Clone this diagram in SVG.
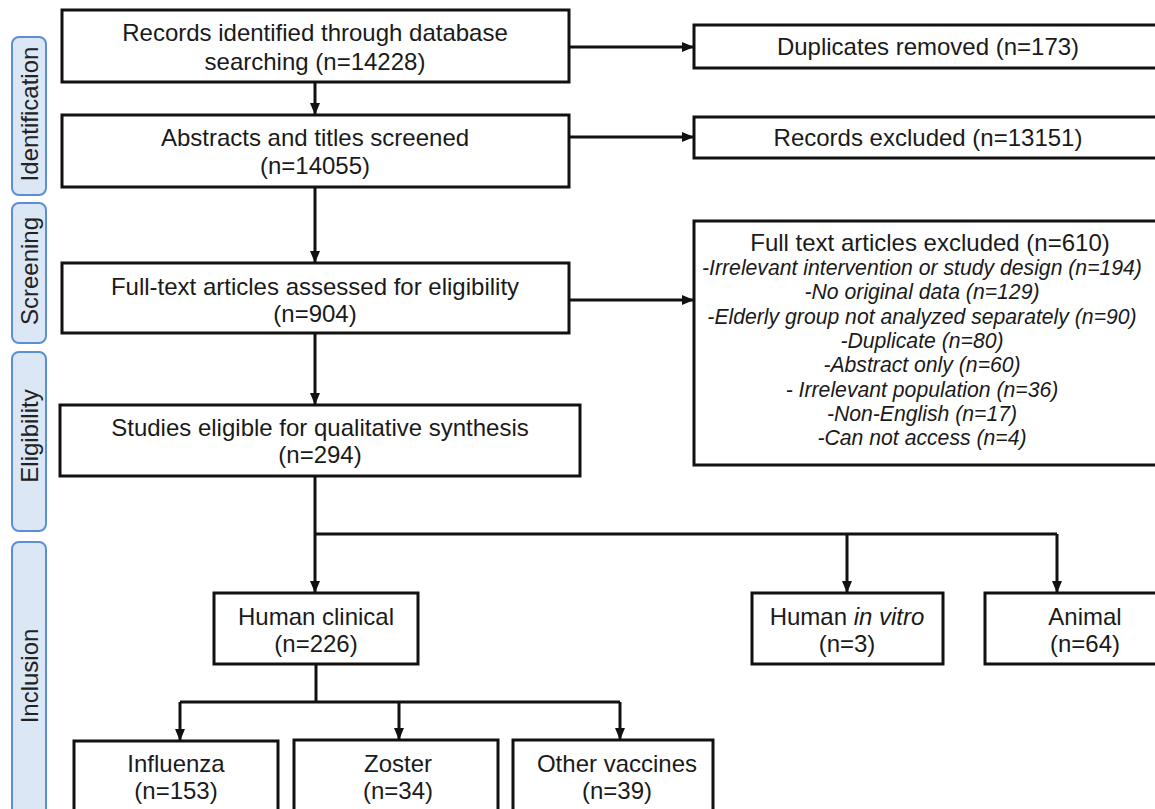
<svg xmlns="http://www.w3.org/2000/svg" width="1155" height="809" viewBox="0 0 1155 809">
<defs>
<style>
.bg{fill:#ffffff}
.phase{fill:#dce7f5;stroke:#5b8fd4;stroke-width:2}
.phase-t{font-family:"Liberation Sans",Arial,sans-serif;font-size:24px;fill:#222;text-anchor:middle}
.box{fill:#ffffff;stroke:#111;stroke-width:3}
.t{font-family:"Liberation Sans",Arial,sans-serif;font-size:24px;fill:#1a1a1a;text-anchor:middle}
.it{font-family:"Liberation Sans",Arial,sans-serif;font-size:21.2px;font-style:italic;fill:#1a1a1a;text-anchor:middle}
.c{fill:none;stroke:#111;stroke-width:3}
</style>
<marker id="ah" markerUnits="userSpaceOnUse" markerWidth="12" markerHeight="12" viewBox="0 0 12 12" refX="12" refY="6" orient="auto">
<path d="M0,1 L12,6 L0,11 z" fill="#111"/>
</marker>
</defs>
<rect class="bg" x="0" y="0" width="1155" height="809"/>

<g id="phase-identification">
<rect class="phase" x="12" y="37" width="34" height="158" rx="7"/>
<text class="phase-t" transform="translate(38,114) rotate(-90)">Identification</text>
</g>
<g id="phase-screening">
<rect class="phase" x="12" y="203" width="34" height="140" rx="7"/>
<text class="phase-t" transform="translate(38,271) rotate(-90)">Screening</text>
</g>
<g id="phase-eligibility">
<rect class="phase" x="12" y="352" width="34" height="179" rx="7"/>
<text class="phase-t" transform="translate(38,436) rotate(-90)">Eligibility</text>
</g>
<g id="phase-inclusion">
<rect class="phase" x="12" y="542" width="34" height="290" rx="7"/>
<text class="phase-t" transform="translate(38,676) rotate(-90)">Inclusion</text>
</g>

<g id="connectors">
<path class="c" d="M315,82 V115" marker-end="url(#ah)"/>
<path class="c" d="M315,187 V263" marker-end="url(#ah)"/>
<path class="c" d="M315,333 V405" marker-end="url(#ah)"/>
<path class="c" d="M315,476 V593" marker-end="url(#ah)"/>
<path class="c" d="M315,534 H1057"/>
<path class="c" d="M847,534 V593" marker-end="url(#ah)"/>
<path class="c" d="M1057,534 V593" marker-end="url(#ah)"/>
<path class="c" d="M316,664 V702"/>
<path class="c" d="M180,702 H620"/>
<path class="c" d="M180,702 V741" marker-end="url(#ah)"/>
<path class="c" d="M399,702 V740" marker-end="url(#ah)"/>
<path class="c" d="M620,702 V740" marker-end="url(#ah)"/>
<path class="c" d="M569,47 H694" marker-end="url(#ah)"/>
<path class="c" d="M569,137 H694" marker-end="url(#ah)"/>
<path class="c" d="M569,300 H694" marker-end="url(#ah)"/>
</g>

<g id="records-identified">
<rect class="box" x="62" y="10" width="507" height="72"/>
<text class="t" x="315" y="41">Records identified through database</text>
<text class="t" x="315" y="70">searching (n=14228)</text>
</g>
<g id="abstracts-screened">
<rect class="box" x="62" y="115" width="507" height="72"/>
<text class="t" x="315" y="146">Abstracts and titles screened</text>
<text class="t" x="315" y="174">(n=14055)</text>
</g>
<g id="fulltext-assessed">
<rect class="box" x="62" y="263" width="507" height="70"/>
<text class="t" x="315" y="295">Full-text articles assessed for eligibility</text>
<text class="t" x="315" y="322">(n=904)</text>
</g>
<g id="studies-eligible">
<rect class="box" x="60" y="405" width="520" height="71"/>
<text class="t" x="320" y="436">Studies eligible for qualitative synthesis</text>
<text class="t" x="320" y="463">(n=294)</text>
</g>
<g id="duplicates-removed">
<rect class="box" x="694" y="25" width="470" height="43"/>
<text class="t" x="928" y="55">Duplicates removed (n=173)</text>
</g>
<g id="records-excluded">
<rect class="box" x="694" y="117" width="470" height="41"/>
<text class="t" x="928" y="146">Records excluded (n=13151)</text>
</g>
<g id="fulltext-excluded">
<rect class="box" x="694" y="221" width="470" height="244"/>
<text class="t" x="930" y="251">Full text articles excluded (n=610)</text>
<text class="it" x="922" y="275">-Irrelevant intervention or study design (n=194)</text>
<text class="it" x="922" y="299">-No original data (n=129)</text>
<text class="it" x="922" y="324">-Elderly group not analyzed separately (n=90)</text>
<text class="it" x="922" y="348">-Duplicate (n=80)</text>
<text class="it" x="922" y="372">-Abstract only (n=60)</text>
<text class="it" x="922" y="397">- Irrelevant population (n=36)</text>
<text class="it" x="922" y="421">-Non-English (n=17)</text>
<text class="it" x="922" y="445">-Can not access (n=4)</text>
</g>
<g id="human-clinical">
<rect class="box" x="214" y="593" width="204" height="71"/>
<text class="t" x="316" y="625">Human clinical</text>
<text class="t" x="316" y="652">(n=226)</text>
</g>
<g id="human-in-vitro">
<rect class="box" x="752" y="593" width="191" height="71"/>
<text class="t" x="847" y="625">Human <tspan font-style="italic">in vitro</tspan></text>
<text class="t" x="847" y="652">(n=3)</text>
</g>
<g id="animal">
<rect class="box" x="985" y="593" width="200" height="71"/>
<text class="t" x="1085" y="625">Animal</text>
<text class="t" x="1085" y="652">(n=64)</text>
</g>
<g id="influenza">
<rect class="box" x="74" y="741" width="204" height="90"/>
<text class="t" x="176" y="772">Influenza</text>
<text class="t" x="176" y="799">(n=153)</text>
</g>
<g id="zoster">
<rect class="box" x="294" y="740" width="204" height="90"/>
<text class="t" x="398" y="772">Zoster</text>
<text class="t" x="398" y="799">(n=34)</text>
</g>
<g id="other-vaccines">
<rect class="box" x="513" y="740" width="200" height="90"/>
<text class="t" x="617" y="772">Other vaccines</text>
<text class="t" x="617" y="799">(n=39)</text>
</g>
</svg>
